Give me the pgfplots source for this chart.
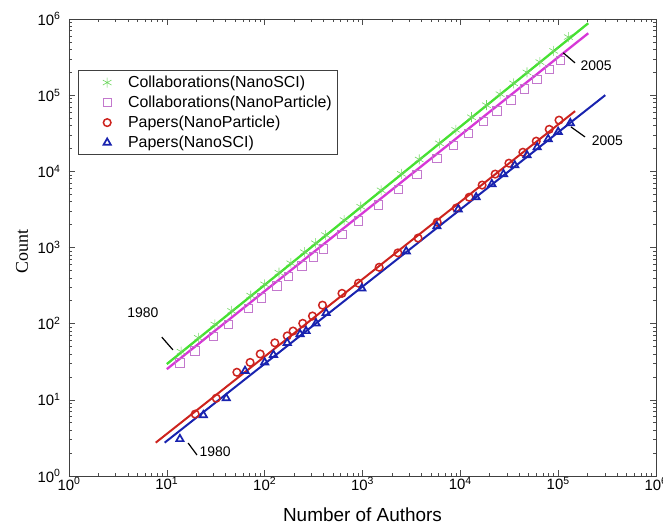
\documentclass[border=0pt]{standalone}
\usepackage{fontspec}
\setmainfont{Liberation Sans}
\newfontfamily\seriffont{Liberation Serif}
\usepackage{pgfplots}
\pgfplotsset{compat=1.18}
\definecolor{cgreen}{RGB}{70,225,50}
\definecolor{cgreenm}{RGB}{110,215,95}
\definecolor{cmag}{RGB}{215,55,215}
\definecolor{cmagm}{RGB}{195,120,205}
\definecolor{cred}{RGB}{205,35,30}
\definecolor{cblue}{RGB}{25,35,175}
\begin{document}
\begin{tikzpicture}
\begin{axis}[
  scale only axis, width=587bp, height=457bp,
  xmode=log, ymode=log,
  xmin=1, xmax=1e6, ymin=1, ymax=1e6,
  xtick={1,10,100,1000,10000,100000,1000000},
  ytick={1,10,100,1000,10000,100000,1000000},
  xticklabels={10\textsuperscript{0},10\textsuperscript{1},10\textsuperscript{2},10\textsuperscript{3},10\textsuperscript{4},10\textsuperscript{5},10\textsuperscript{6}},
  yticklabels={10\textsuperscript{0},10\textsuperscript{1},10\textsuperscript{2},10\textsuperscript{3},10\textsuperscript{4},10\textsuperscript{5},10\textsuperscript{6}},
  ticklabel style={font=\fontsize{15}{18}\selectfont},
  xticklabel style={yshift=2bp},
  yticklabel style={xshift=-5bp},
  axis line style={black!75, line width=0.7bp},
  tick style={black!70, line width=0.6bp},
  major tick length=6bp, minor tick length=3bp,
  tick align=inside,
  xlabel={Number of Authors},
  ylabel={\seriffont Count},
  xlabel style={font=\fontsize{19}{22}\selectfont, at={(axis description cs:0.5,-0.0853)}, anchor=center},
  ylabel style={font=\fontsize{18}{21}\selectfont, at={(axis description cs:-0.080,0.492)}, anchor=center},
  legend image code/.code={\draw[#1] plot coordinates {(24bp,0bp)}; \path (0bp,0bp) (42bp,0bp);},
  legend style={at={(rel axis cs:0.0153,0.888)}, anchor=north west,
    font=\fontsize{16}{19.5}\selectfont, draw=black!75, line width=0.7bp,
    inner xsep=4bp, inner ysep=3.5bp, row sep=3bp},
  legend cell align=left,
  clip=false,
]
% Collaborations (NanoSCI)
\addplot[only marks, mark=asterisk, mark size=5bp, color=cgreenm, line width=0.6bp] coordinates {
(14,42.9)(21,65.2)(31,97.7)(46,147)(72,234)(100,329)(140,467)(185,622)(255,869)(330,1138)
(420,1456)(650,2291)(960,3436)(1550,5640)(2500,9270)(3800,14320)(6100,23340)(9000,35000)
(13000,51300)(18500,73800)(25500,103000)(35000,143000)(48000,199000)(65000,272000)(90000,381000)(127000,580000)};
\addlegendentry{Collaborations(NanoSCI)}
% Collaborations (NanoParticle)
\addplot[only marks, mark=square, mark size=4.2bp, color=cmagm, line width=0.6bp] coordinates {
(13.6,30.7)(19.4,44.1)(29.9,68.5)(42.6,98.2)(68,159)(93,218)(133,315)(175,416)(240,574)(315,759)
(398,964)(614,1500)(908,2234)(1455,3622)(2330,5848)(3590,9099)(5750,14720)(8500,21930)
(12100,31480)(17200,45080)(23600,62230)(32800,87100)(45300,121000)(60600,163000)(81500,220000)(105000,286000)};
\addlegendentry{Collaborations(NanoParticle)}
% Papers (NanoParticle)
\addplot[only marks, mark=o, mark size=3.8bp, color=cred, line width=1.5bp] coordinates {
(19.5,6.5)(32,10.5)(52,23)(71,31)(90,40)(127,56)(170,69)(195,80)(245,101)(308,126)
(390,175)(617,250)(910,340)(1480,550)(2300,850)(3700,1330)(5800,2150)(9100,3300)
(12300,4570)(16700,6600)(22700,9200)(31400,12800)(43600,17800)(59700,24900)(81000,35600)(102000,47000)};
\addlegendentry{Papers(NanoParticle)}
% Papers (NanoSCI)
\addplot[only marks, mark=triangle, mark size=4.2bp, color=cblue, line width=1.7bp] coordinates {
(13.6,3.06)(23.6,6.3)(40.5,10.5)(63,24)(100,31)(123,39)(170,56)(230,73)(265,80)(335,101)
(425,138)(984,290)(2800,890)(5760,1900)(9500,3170)(14500,4570)(21000,6800)(27600,9200)
(36000,12000)(48000,16300)(61000,20700)(79000,26500)(100000,33000)(133000,43000)};
\addlegendentry{Papers(NanoSCI)}
% fitted lines
\addplot[forget plot, cgreen, line width=2.3bp] coordinates {(10,29.5)(203000,880000)};
\addplot[forget plot, cmag, line width=2.3bp] coordinates {(10,25.3)(203000,650000)};
\addplot[forget plot, cred, line width=2.0bp] coordinates {(7.7,2.74)(149000,61700)};
\addplot[forget plot, cblue, line width=2.0bp] coordinates {(9.5,2.74)(303000,100000)};
% annotations
\node[font=\fontsize{14}{16}\selectfont] at (rel axis cs:0.126,0.357) {1980};
\draw[black, line width=1.2bp] (rel axis cs:0.158,0.304) -- (rel axis cs:0.177,0.276);
\node[font=\fontsize{14}{16}\selectfont] at (rel axis cs:0.249,0.0525) {1980};
\draw[black, line width=1.2bp] (rel axis cs:0.203,0.072) -- (rel axis cs:0.218,0.046);
\node[font=\fontsize{14}{16}\selectfont] at (rel axis cs:0.898,0.897) {2005};
\draw[black, line width=1.2bp] (rel axis cs:0.842,0.926) -- (rel axis cs:0.862,0.904);
\node[font=\fontsize{14}{16}\selectfont] at (rel axis cs:0.917,0.733) {2005};
\draw[black, line width=1.2bp] (rel axis cs:0.855,0.764) -- (rel axis cs:0.879,0.742);
\end{axis}
\pgfresetboundingbox
\useasboundingbox (-69bp,-55bp) rectangle (594bp,476bp);
\end{tikzpicture}
\end{document}
